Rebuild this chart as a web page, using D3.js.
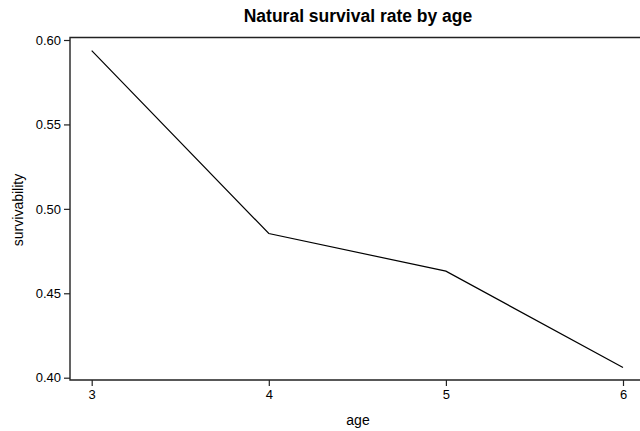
<!DOCTYPE html>
<html><head><meta charset="utf-8">
<script src="https://cdn.jsdelivr.net/npm/d3@7"></script>
<style>body{margin:0;background:#fff}svg{display:block}text{font-family:"Liberation Sans",Arial,sans-serif;fill:#000}</style>
</head><body>
<script>
const ages = [3, 4, 5, 6];
const survivability = [0.5937, 0.4854, 0.4631, 0.4060];
const yTicks = [0.40, 0.45, 0.50, 0.55, 0.60];
const xTicks = [3, 4, 5, 6];

const W = 640, H = 431;
const box = {left: 70, right: 641, top: 37.5, bottom: 380};
const svg = d3.select("body").append("svg").attr("width", W).attr("height", H);

const x = d3.scaleLinear().domain([3, 6]).range([91.7, 623]);
const y = d3.scaleLinear().domain([0.40, 0.60]).range([377.7, 40]);

// box
svg.append("path")
  .attr("d", `M${box.right},${box.top}H${box.left}V${box.bottom}H${box.right}`)
  .attr("fill", "none").attr("stroke", "#222").attr("stroke-width", 1.4);

const yAxis = d3.axisLeft(y).tickValues(yTicks).tickFormat(d3.format(".2f")).tickSize(6).tickPadding(3);
const gy = svg.append("g").attr("transform", `translate(${box.left},0)`).call(yAxis);
gy.select(".domain").remove();
gy.selectAll("line").attr("stroke", "#222").attr("stroke-width", 1.2);
gy.selectAll("text").attr("font-size", 13).style("font-family", '"Liberation Sans",Arial,sans-serif');

const xAxis = d3.axisBottom(x).tickValues(xTicks).tickFormat(d3.format("d")).tickSize(6).tickPadding(4);
const gx = svg.append("g").attr("transform", `translate(0,${box.bottom})`).call(xAxis);
gx.select(".domain").remove();
gx.selectAll("line").attr("stroke", "#222").attr("stroke-width", 1.2);
gx.selectAll("text").attr("font-size", 13).style("font-family", '"Liberation Sans",Arial,sans-serif');

const line = d3.line().x((d, i) => x(ages[i])).y(d => y(d));
svg.append("path").datum(survivability).attr("d", line)
  .attr("fill", "none").attr("stroke", "#000").attr("stroke-width", 1.2);

svg.append("text").attr("x", 358).attr("y", 22).attr("text-anchor", "middle")
  .attr("font-size", 17.5).attr("font-weight", "bold").text("Natural survival rate by age");
svg.append("text").attr("x", 358).attr("y", 425).attr("text-anchor", "middle")
  .attr("font-size", 14).text("age");
svg.append("text").attr("transform", "translate(23,210) rotate(-90)").attr("text-anchor", "middle")
  .attr("font-size", 14).text("survivability");
</script>
</body></html>
